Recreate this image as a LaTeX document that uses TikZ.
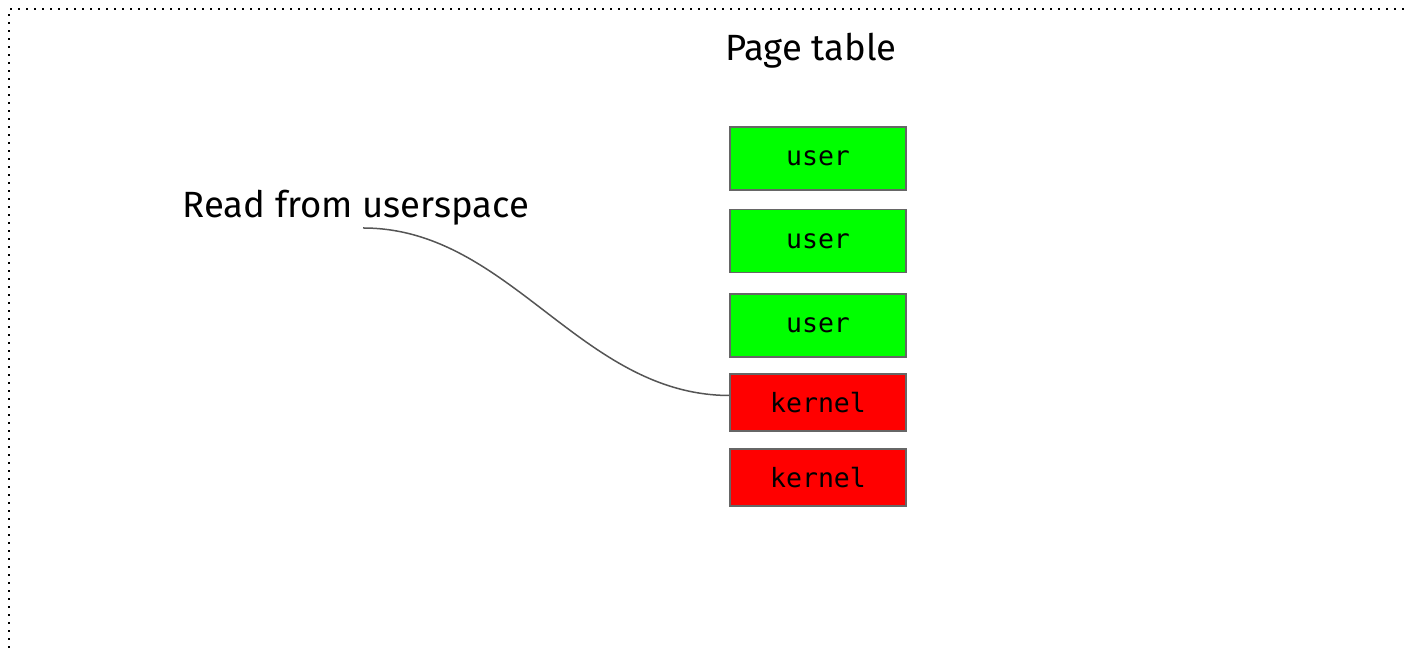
\documentclass[tikz,border=0pt]{standalone}
\usepackage{fontspec}
\setmainfont{Fira Sans}
\newfontfamily\monof{DejaVu Sans Mono}
\definecolor{boxgreen}{HTML}{00FF00}
\definecolor{boxred}{HTML}{FF0000}
\definecolor{edgegray}{HTML}{666666}
\definecolor{linegray}{HTML}{555555}
\tikzset{
  pagebox/.style={draw=edgegray, line width=1.5pt, minimum width=176pt, inner sep=0pt, font=\monof\fontsize{26.5}{30}\selectfont},
  userbox/.style={pagebox, fill=boxgreen, minimum height=63pt},
  kernbox/.style={pagebox, fill=boxred, minimum height=57pt},
  label/.style={font=\fontsize{36.5}{42}\selectfont, inner sep=0pt},
  wire/.style={draw=linegray, line width=1.5pt}
}
\begin{document}
\begin{tikzpicture}[x=1pt,y=1pt]
\useasboundingbox (0,0) rectangle (1404,652);
\begin{scope}
\clip (0,0) rectangle (1404,652);
\draw[line width=1.5pt, dash pattern=on 1.5pt off 6.5pt] (9,-20) -- (9,643) -- (1430,643);
\end{scope}
\node[label] (title) at (811,601) {Page table};
\node[userbox] (u1) at (818,493.5) {user};
\node[userbox] (u2) at (818,411) {user};
\node[userbox] (u3) at (818,326.5) {user};
\node[kernbox] (k1) at (818,249.5) {kernel};
\node[kernbox] (k2) at (818,174.5) {kernel};
\node[label] (read) at (356,444) {Read from userspace};
\coordinate (start) at (363,424);
\draw[wire] (start) .. controls (510,424) and (580,257) .. ([yshift=7pt]k1.west);
\end{tikzpicture}
\end{document}
